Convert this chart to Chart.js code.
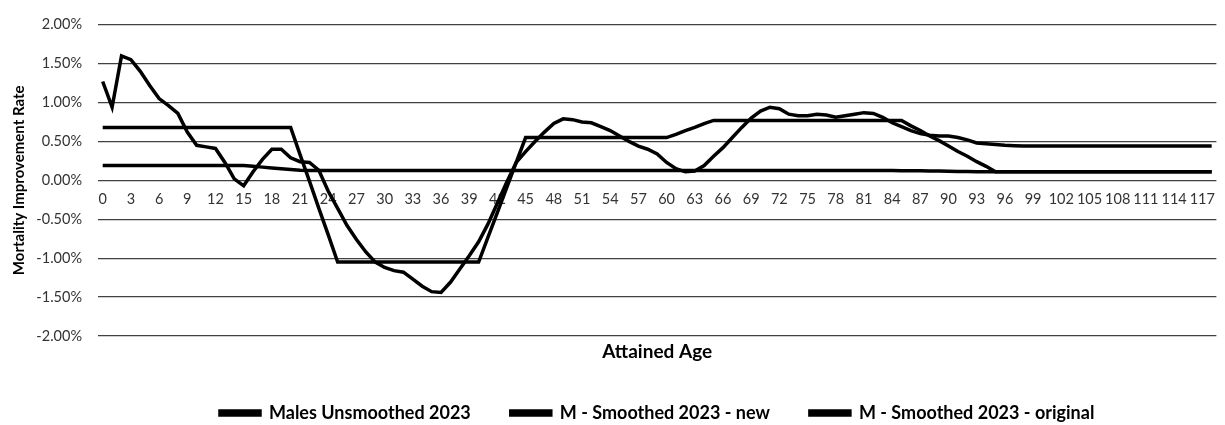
<!DOCTYPE html>
<html>
<head>
<meta charset="utf-8">
<title>Mortality Improvement Rate</title>
<script src="https://cdn.jsdelivr.net/npm/chart.js@4"></script>
<style>
  html, body { margin: 0; padding: 0; background: #fff; }
  #wrap { width: 1225px; height: 425px; position: relative; }
</style>
</head>
<body>
<div id="wrap"><canvas id="chart"></canvas></div>
<script>
// Ages 0..118 on the category axis
const ages = [
  0, 1, 2, 3, 4, 5, 6, 7, 8, 9, 10, 11, 12, 13, 14, 15, 16, 17, 18, 19,
  20, 21, 22, 23, 24, 25, 26, 27, 28, 29, 30, 31, 32, 33, 34, 35, 36, 37, 38, 39,
  40, 41, 42, 43, 44, 45, 46, 47, 48, 49, 50, 51, 52, 53, 54, 55, 56, 57, 58, 59,
  60, 61, 62, 63, 64, 65, 66, 67, 68, 69, 70, 71, 72, 73, 74, 75, 76, 77, 78, 79,
  80, 81, 82, 83, 84, 85, 86, 87, 88, 89, 90, 91, 92, 93, 94, 95, 96, 97, 98, 99,
  100, 101, 102, 103, 104, 105, 106, 107, 108, 109, 110, 111, 112, 113, 114, 115, 116, 117, 118
];

// Rates in percent
const malesUnsmoothed = [
  1.27, 0.94, 1.60, 1.55, 1.40, 1.22, 1.05, 0.96, 0.86, 0.62,
  0.45, 0.43, 0.41, 0.23, 0.02, -0.07, 0.11, 0.27, 0.40, 0.40,
  0.29, 0.24, 0.23, 0.13, -0.14, -0.36, -0.58, -0.76, -0.92, -1.05,
  -1.12, -1.16, -1.18, -1.27, -1.36, -1.43, -1.44, -1.31, -1.14, -0.97,
  -0.79, -0.56, -0.29, -0.02, 0.23, 0.37, 0.50, 0.62, 0.73, 0.79,
  0.78, 0.75, 0.74, 0.69, 0.64, 0.57, 0.50, 0.44, 0.40, 0.34,
  0.23, 0.15, 0.11, 0.12, 0.19, 0.31, 0.42, 0.55, 0.68, 0.80,
  0.89, 0.94, 0.92, 0.85, 0.83, 0.83, 0.85, 0.84, 0.81, 0.83,
  0.85, 0.87, 0.86, 0.81, 0.74, 0.69, 0.64, 0.60, 0.58, 0.57,
  0.57, 0.55, 0.52, 0.48, 0.47, 0.46, 0.45, 0.445, 0.44, 0.44,
  0.44, 0.44, 0.44, 0.44, 0.44, 0.44, 0.44, 0.44, 0.44, 0.44,
  0.44, 0.44, 0.44, 0.44, 0.44, 0.44, 0.44, 0.44, 0.44
];

const smoothedNew = [
  0.68, 0.68, 0.68, 0.68, 0.68, 0.68, 0.68, 0.68, 0.68, 0.68,
  0.68, 0.68, 0.68, 0.68, 0.68, 0.68, 0.68, 0.68, 0.68, 0.68,
  0.68, 0.33, -0.01, -0.36, -0.70, -1.05, -1.05, -1.05, -1.05, -1.05,
  -1.05, -1.05, -1.05, -1.05, -1.05, -1.05, -1.05, -1.05, -1.05, -1.05,
  -1.05, -0.73, -0.41, -0.09, 0.23, 0.55, 0.55, 0.55, 0.55, 0.55,
  0.55, 0.55, 0.55, 0.55, 0.55, 0.55, 0.55, 0.55, 0.55, 0.55,
  0.55, 0.59, 0.64, 0.68, 0.73, 0.77, 0.77, 0.77, 0.77, 0.77,
  0.77, 0.77, 0.77, 0.77, 0.77, 0.77, 0.77, 0.77, 0.77, 0.77,
  0.77, 0.77, 0.77, 0.77, 0.77, 0.77, 0.70, 0.64, 0.57, 0.51,
  0.44, 0.37, 0.31, 0.24, 0.18, 0.11, 0.11, 0.11, 0.11, 0.11,
  0.11, 0.11, 0.11, 0.11, 0.11, 0.11, 0.11, 0.11, 0.11, 0.11,
  0.11, 0.11, 0.11, 0.11, 0.11, 0.11, 0.11, 0.11, 0.11
];

const smoothedOriginal = [
  0.19, 0.19, 0.19, 0.19, 0.19, 0.19, 0.19, 0.19, 0.19, 0.19,
  0.19, 0.19, 0.19, 0.19, 0.19, 0.19, 0.18, 0.17, 0.16, 0.15,
  0.14, 0.13, 0.125, 0.125, 0.125, 0.125, 0.125, 0.125, 0.125, 0.125,
  0.125, 0.125, 0.125, 0.125, 0.125, 0.125, 0.125, 0.125, 0.125, 0.125,
  0.125, 0.125, 0.125, 0.125, 0.125, 0.125, 0.125, 0.125, 0.125, 0.125,
  0.125, 0.125, 0.125, 0.125, 0.125, 0.125, 0.125, 0.125, 0.125, 0.125,
  0.125, 0.125, 0.125, 0.125, 0.125, 0.125, 0.125, 0.125, 0.125, 0.125,
  0.125, 0.125, 0.125, 0.125, 0.125, 0.125, 0.125, 0.125, 0.125, 0.125,
  0.125, 0.125, 0.125, 0.125, 0.125, 0.124, 0.123, 0.122, 0.12, 0.119,
  0.117, 0.115, 0.113, 0.112, 0.111, 0.11, 0.11, 0.11, 0.11, 0.11,
  0.11, 0.11, 0.11, 0.11, 0.11, 0.11, 0.11, 0.11, 0.11, 0.11,
  0.11, 0.11, 0.11, 0.11, 0.11, 0.11, 0.11, 0.11, 0.11
];

const seriesNames = ['Males Unsmoothed 2023', 'M - Smoothed 2023 - new', 'M - Smoothed 2023 - original'];
const yTicks = [-2, -1.5, -1, -0.5, 0, 0.5, 1, 1.5, 2];

Chart.defaults.font.family = 'Lato, "Open Sans", sans-serif';
Chart.defaults.color = '#333';

function lineSet(label, data) {
  return {
    label: label,
    data: data,
    borderColor: '#000',
    backgroundColor: '#000',
    borderWidth: 3.5,
    pointRadius: 0,
    tension: 0,
    fill: false
  };
}

const ctx = document.getElementById('chart').getContext('2d');
new Chart(ctx, {
  type: 'line',
  data: {
    labels: ages,
    datasets: [
      lineSet(seriesNames[0], malesUnsmoothed),
      lineSet(seriesNames[1], smoothedNew),
      lineSet(seriesNames[2], smoothedOriginal)
    ]
  },
  options: {
    responsive: true,
    maintainAspectRatio: false,
    animation: false,
    layout: { padding: { top: 13, right: 0, bottom: -7, left: 0 } },
    plugins: {
      tooltip: { enabled: false },
      legend: {
        position: 'bottom',
        fullSize: false,
        labels: {
          boxWidth: 40,
          boxHeight: 4,
          padding: 40,
          color: '#000',
          font: { size: 18, weight: 'bold' }
        }
      }
    },
    scales: {
      x: {
        type: 'category',
        position: { y: 0 },
        offset: true,
        grid: { display: false, drawTicks: false },
        border: { display: false },
        ticks: {
          autoSkip: false,
          maxRotation: 0,
          padding: 10,
          color: '#333',
          font: { size: 14.5 },
          callback: function (v, i) { return i % 3 === 0 ? ages[i] : null; }
        }
      },
      x2: {
        type: 'category',
        position: 'bottom',
        offset: true,
        grid: { display: false, drawTicks: false },
        border: { display: false },
        ticks: { display: false },
        title: {
          display: true,
          text: 'Attained Age',
          color: '#000',
          font: { size: 19, weight: 'bold', lineHeight: 1 },
          padding: { top: 0, bottom: 2.5 }
        },
        afterFit: function (s) { s.height = 28; }
      },
      y: {
        min: -2,
        max: 2,
        afterFit: function (s) { s.width = 98; },
        afterBuildTicks: function (s) { s.ticks = yTicks.map(v => ({ value: v })); },
        grid: { color: '#404040', lineWidth: 1.3, drawTicks: false },
        border: { display: false },
        ticks: {
          padding: 16,
          color: '#333',
          font: { size: 14.5 },
          callback: function (v) { return v.toFixed(2) + '%'; }
        },
        title: {
          display: true,
          text: 'Mortality Improvement Rate',
          color: '#000',
          font: { size: 15, weight: 'bold' },
          padding: { top: 10, bottom: 0 }
        }
      }
    }
  }
});
</script>
</body>
</html>
